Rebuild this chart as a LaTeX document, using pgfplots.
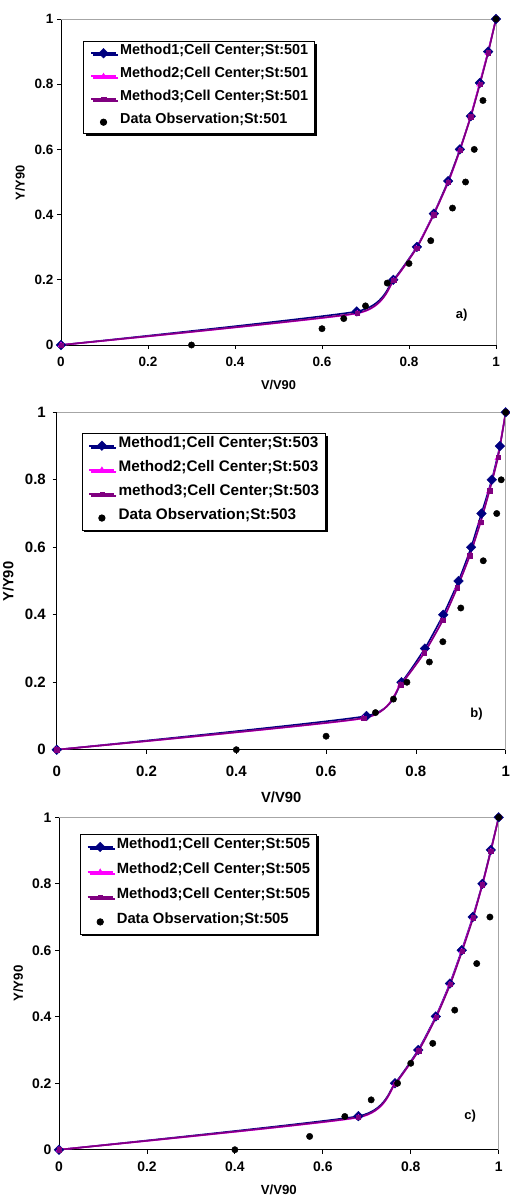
\documentclass[border=0pt]{standalone}
\usepackage{fontspec}
\setmainfont{Liberation Sans}
\usepackage{pgfplots}
\pgfplotsset{compat=1.18}
\usetikzlibrary{shadows}
\definecolor{navyc}{RGB}{0,0,128}
\definecolor{magc}{RGB}{255,0,255}
\definecolor{purc}{RGB}{128,0,128}
\newcommand\fs[1]{\bfseries\fontsize{#1}{#1}\selectfont}

\pgfplotsset{
  panel/.style={
    scale only axis, clip=false,
    axis lines*=left,
    axis line style={-, black, line width=0.8pt},
    tick align=outside, major tick length=4pt,
    tick style={black, line width=0.8pt},
    xmin=0, xmax=1, ymin=0, ymax=1,
    xtick={0,0.2,0.4,0.6,0.8,1}, ytick={0,0.2,0.4,0.6,0.8,1},
    /pgf/number format/assume math mode=true,
    legend cell align=left,
    legend image code/.code={\draw[mark repeat=2,mark phase=2,##1] plot coordinates {(0pt,0pt) (12.5pt,0pt) (25pt,0pt)};},
    legend style={anchor=north west, draw=black, line width=0.8pt, fill=white,
      inner xsep=6.5pt, inner ysep=0pt, row sep=0pt,
      /tikz/every odd column/.append style={column sep=3.3pt},
      drop shadow={shadow xshift=2pt, shadow yshift=-2pt, fill=black, opacity=1}},
  },
  m1/.style={color=navyc, line width=1.6pt, smooth, tension=0.3, mark=square*, mark size=3.4pt, mark options={rotate=45, solid, fill=navyc, line width=0.4pt}},
  m2/.style={color=magc, line width=1.6pt, smooth, tension=0.3, mark=triangle*, mark size=3.2pt, mark options={solid, fill=magc, line width=0.3pt}},
  m3/.style={color=purc, line width=1.6pt, smooth, tension=0.3, mark=square*, mark size=2.2pt, mark options={solid, fill=purc, line width=0.3pt}},
  obs/.style={only marks, mark=*, mark size=3.2pt, color=black, mark options={fill=black}},
}

\begin{document}
\begin{tikzpicture}
\useasboundingbox (0,0) rectangle (510pt,-1196pt);

% ---------- panel a ----------
\begin{axis}[panel, at={(61pt,-345pt)}, anchor=south west, width=435pt, height=326pt,
  ticklabel style={font=\fs{13.5}},
  xticklabel style={yshift=-5pt},
  xlabel={V/V90}, ylabel={Y/Y90},
  label style={font=\fs{12.8}},
  xlabel style={at={(axis description cs:0.5,-0.1227)}, anchor=center},
  ylabel style={at={(axis description cs:-0.094,0.497)}, anchor=center},
  legend style={at={(axis description cs:0.0513,0.9316)}, font=\fs{14.4},
    nodes={inner xsep=0pt, inner ysep=0pt, text height=13pt, text depth=10pt}},
]
\addplot[m1] coordinates {(0,0) (0.68,0.103) (0.764,0.2) (0.818,0.301) (0.857,0.403) (0.89,0.503) (0.917,0.6) (0.942,0.702) (0.963,0.804) (0.982,0.9) (1,1)};
\addlegendentry{Method1;Cell Center;St:501}
\addplot[m2] coordinates {(0,0) (0.681,0.097) (0.765,0.198) (0.817,0.297) (0.856,0.399) (0.89,0.498) (0.917,0.597) (0.941,0.698) (0.962,0.799) (0.981,0.895) (1,1)};
\addlegendentry{Method2;Cell Center;St:501}
\addplot[m3] coordinates {(0,0) (0.681,0.098) (0.765,0.199) (0.818,0.298) (0.857,0.4) (0.89,0.5) (0.917,0.598) (0.942,0.7) (0.963,0.8) (0.982,0.897) (1,1)};
\addlegendentry{Method3;Cell Center;St:501}
\addplot[obs] coordinates {(0.3,0) (0.6,0.05) (0.65,0.081) (0.7,0.12) (0.75,0.19) (0.8,0.25) (0.85,0.32) (0.9,0.42) (0.93,0.5) (0.95,0.6) (0.97,0.75) (1,1)};
\addlegendentry{Data Observation;St:501}
\draw[gray!70, line width=0.8pt] (rel axis cs:0,1) -- (rel axis cs:1,1) -- (rel axis cs:1,0);
\node[font=\fs{13}] at (axis description cs:0.921,0.092) {a)};
\end{axis}

% ---------- panel b ----------
\begin{axis}[panel, at={(56.7pt,-749.7pt)}, anchor=south west, width=449pt, height=337.4pt,
  ticklabel style={font=\fs{15}},
  xticklabel style={yshift=-8.6pt},
  yticklabel style={xshift=-3.4pt},
  xlabel={V/V90}, ylabel={Y/Y90},
  label style={font=\fs{14.7}},
  xlabel style={at={(axis description cs:0.5,-0.140)}, anchor=center},
  ylabel style={at={(axis description cs:-0.108,0.498)}, anchor=center},
  legend style={at={(axis description cs:0.0557,0.9378)}, font=\fs{15.3},
    nodes={inner xsep=0pt, inner ysep=0pt, text height=14pt, text depth=10.1pt}},
]
\addplot[m1] coordinates {(0,0) (0.69,0.1) (0.768,0.2) (0.82,0.3) (0.861,0.4) (0.895,0.5) (0.923,0.6) (0.946,0.7) (0.969,0.8) (0.987,0.9) (1,1)};
\addlegendentry{Method1;Cell Center;St:503}
\addplot[m2] coordinates {(0,0) (0.683,0.093) (0.765,0.192) (0.818,0.286) (0.859,0.382) (0.891,0.478) (0.919,0.572) (0.943,0.671) (0.963,0.765) (0.982,0.864) (1,1)};
\addlegendentry{Method2;Cell Center;St:503}
\addplot[m3] coordinates {(0,0) (0.684,0.094) (0.766,0.193) (0.819,0.288) (0.86,0.384) (0.892,0.48) (0.92,0.575) (0.944,0.674) (0.964,0.768) (0.983,0.867) (1,1)};
\addlegendentry{method3;Cell Center;St:503}
\addplot[obs] coordinates {(0.4,0) (0.6,0.04) (0.71,0.11) (0.75,0.15) (0.78,0.2) (0.83,0.26) (0.86,0.32) (0.9,0.42) (0.95,0.56) (0.98,0.7) (0.99,0.8) (1,1)};
\addlegendentry{Data Observation;St:503}
\draw[gray!70, line width=0.8pt] (rel axis cs:0,1) -- (rel axis cs:1,1);
\draw[gray!70, line width=1.5pt] (rel axis cs:1,1) -- (rel axis cs:1,0);
\node[font=\fs{13}] at (axis description cs:0.935,0.106) {b)};
\end{axis}

% ---------- panel c ----------
\begin{axis}[panel, at={(59pt,-1149.7pt)}, anchor=south west, width=439.7pt, height=332.4pt,
  ticklabel style={font=\fs{13.9}},
  xticklabel style={yshift=-5pt},
  xlabel={V/V90}, ylabel={Y/Y90},
  label style={font=\fs{13.2}},
  xlabel style={at={(axis description cs:0.5,-0.121)}, anchor=center},
  ylabel style={at={(axis description cs:-0.093,0.50)}, anchor=center},
  legend style={at={(axis description cs:0.0478,0.9497)}, font=\fs{14.8},
    nodes={inner xsep=0pt, inner ysep=0pt, text height=14pt, text depth=11pt}},
]
\addplot[m1] coordinates {(0,0) (0.681,0.101) (0.764,0.2) (0.817,0.3) (0.857,0.401) (0.889,0.5) (0.916,0.6) (0.941,0.7) (0.963,0.8) (0.982,0.902) (1,1)};
\addlegendentry{Method1;Cell Center;St:505}
\addplot[m2] coordinates {(0,0) (0.681,0.097) (0.764,0.197) (0.817,0.297) (0.857,0.398) (0.889,0.497) (0.916,0.597) (0.941,0.697) (0.963,0.797) (0.982,0.898) (1,1)};
\addlegendentry{Method2;Cell Center;St:505}
\addplot[m3] coordinates {(0,0) (0.681,0.098) (0.764,0.198) (0.818,0.298) (0.858,0.399) (0.89,0.498) (0.917,0.598) (0.942,0.698) (0.963,0.798) (0.982,0.898) (1,1)};
\addlegendentry{Method3;Cell Center;St:505}
\addplot[obs] coordinates {(0.4,0) (0.57,0.04) (0.65,0.1) (0.71,0.15) (0.77,0.2) (0.8,0.26) (0.85,0.32) (0.9,0.42) (0.95,0.56) (0.98,0.7) (1,1)};
\addlegendentry{Data Observation;St:505}
\draw[gray!70, line width=0.8pt] (rel axis cs:0,1) -- (rel axis cs:1,1) -- (rel axis cs:1,0);
\node[font=\fs{13}] at (axis description cs:0.935,0.101) {c)};
\end{axis}
\end{tikzpicture}
\end{document}
